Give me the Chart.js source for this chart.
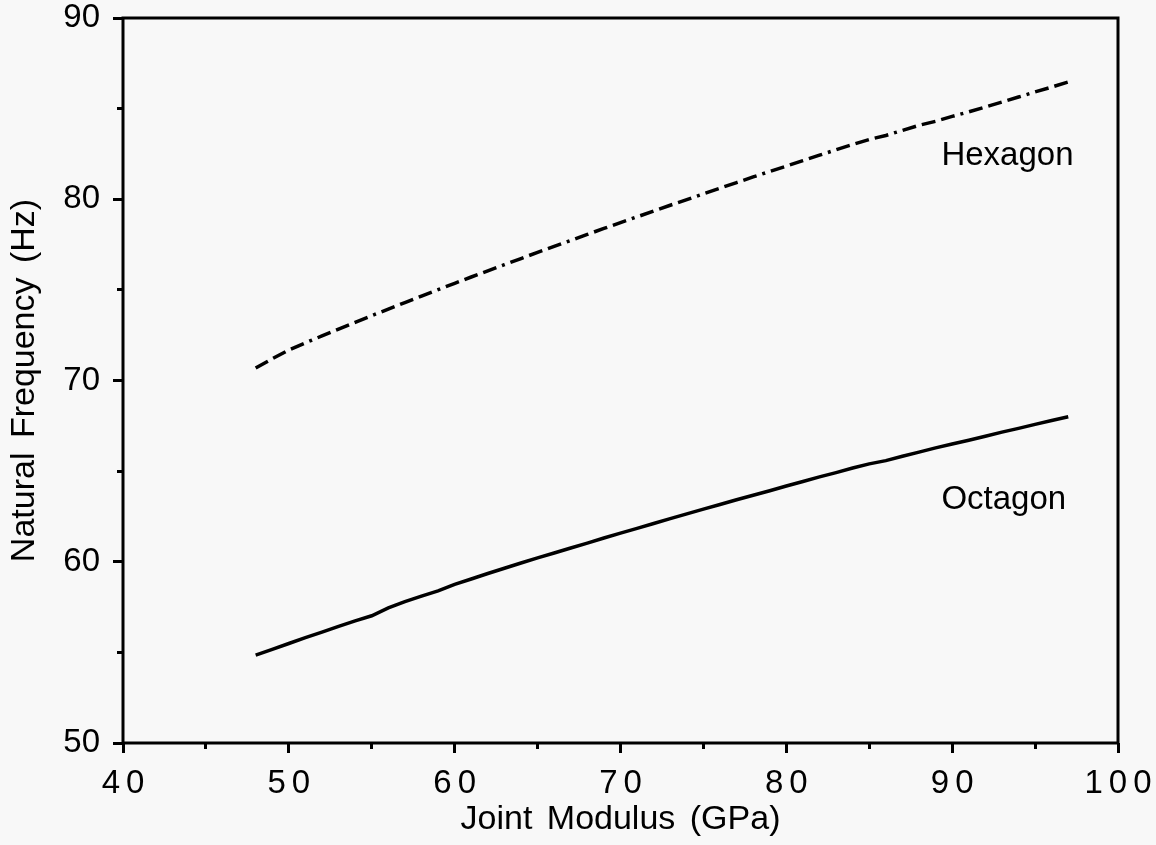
<!DOCTYPE html>
<html>
<head>
<meta charset="utf-8">
<script src="https://cdn.jsdelivr.net/npm/chart.js@4.4.1/dist/chart.umd.min.js"></script>
<style>
html,body{margin:0;padding:0;background:#f8f8f8;}
#wrap{width:1156px;height:845px;}
</style>
</head>
<body>
<div id="wrap"><canvas id="c" width="1156" height="845"></canvas></div>
<script>
// ---- data ----
const modulus = [48,49,50,51,52,53,54,55,56,57,58,59,60,61,62,63,64,65,66,67,68,69,70,71,72,73,74,75,76,77,78,79,80,81,82,83,84,85,86,87,88,89,90,91,92,93,94,95,96,97];
const hexagon = [70.69,71.20,71.68,72.08,72.46,72.84,73.21,73.58,73.94,74.30,74.66,75.01,75.36,75.71,76.05,76.39,76.73,77.07,77.40,77.73,78.06,78.39,78.71,79.03,79.35,79.67,79.98,80.30,80.61,80.92,81.23,81.53,81.83,82.13,82.43,82.73,83.02,83.30,83.52,83.80,84.08,84.30,84.57,84.82,85.09,85.36,85.64,85.92,86.19,86.47];
const octagon = [54.85,55.17,55.49,55.81,56.12,56.43,56.74,57.02,57.45,57.80,58.10,58.39,58.75,59.05,59.35,59.64,59.93,60.21,60.48,60.76,61.03,61.31,61.58,61.84,62.11,62.38,62.64,62.90,63.16,63.42,63.67,63.92,64.18,64.43,64.68,64.92,65.17,65.40,65.58,65.82,66.05,66.28,66.50,66.70,66.92,67.15,67.36,67.58,67.79,68.00];
const curveLabels = ['Hexagon','Octagon'];
const curveLabelX = [89.35, 89.35];
const curveLabelY = [81.9, 62.9];
const xRange = [40, 100];
const yRange = [50, 90];
const xTitle = 'Joint Modulus (GPa)';
const yTitle = 'Natural Frequency (Hz)';

const FAMILY = '"Liberation Sans", Arial, Helvetica, sans-serif';
Chart.defaults.font.family = FAMILY;
Chart.defaults.color = '#000';

const toPts = (xs, ys) => xs.map((x, i) => ({x: x, y: ys[i]}));

const bgPlugin = {
  id: 'bg',
  beforeDraw(chart) {
    const c = chart.ctx;
    c.save();
    c.fillStyle = '#f8f8f8';
    c.fillRect(0, 0, chart.width, chart.height);
    c.restore();
  }
};

const spacingPlugin = {
  id: 'xspacing',
  afterLayout(chart) {
    const s = chart.scales.x;
    if (s && !s._spaced) {
      const orig = s.drawLabels.bind(s);
      s.drawLabels = function(area) {
        const c = this.ctx;
        c.save();
        c.letterSpacing = '6px';
        c.translate(3, 0);
        orig(area);
        c.restore();
      };
      s._spaced = true;
    }
    ['x', 'y'].forEach(id => {
      const sc = chart.scales[id];
      if (sc && !sc._wordSpaced) {
        const o = sc.drawTitle.bind(sc);
        sc.drawTitle = function() {
          const c = this.ctx;
          c.save();
          c.wordSpacing = '5px';
          o();
          c.restore();
        };
        sc._wordSpaced = true;
      }
    });
  }
};

const framePlugin = {
  id: 'frame',
  afterDatasetsDraw(chart) {
    const a = chart.chartArea, c = chart.ctx;
    c.save();
    c.strokeStyle = '#000';
    c.lineWidth = 3;
    c.strokeRect(a.left, a.top, a.right - a.left, a.bottom - a.top);
    c.font = '33px ' + FAMILY;
    c.fillStyle = '#000';
    c.textAlign = 'left';
    c.textBaseline = 'alphabetic';
    curveLabels.forEach((t, i) => {
      c.fillText(t, chart.scales.x.getPixelForValue(curveLabelX[i]), chart.scales.y.getPixelForValue(curveLabelY[i]));
    });
    c.restore();
  }
};

new Chart(document.getElementById('c'), {
  type: 'line',
  data: {
    datasets: [
      {
        label: 'Hexagon',
        data: toPts(modulus, hexagon),
        borderColor: '#000',
        borderWidth: 3.5,
        borderDash: [14, 6, 14, 6, 14, 6, 3, 6],
        pointRadius: 0,
        tension: 0,
        fill: false,
        xAxisID: 'x', yAxisID: 'y'
      },
      {
        label: 'Octagon',
        data: toPts(modulus, octagon),
        borderColor: '#000',
        borderWidth: 3.5,
        pointRadius: 0,
        tension: 0,
        fill: false,
        xAxisID: 'x', yAxisID: 'y'
      }
    ]
  },
  options: {
    responsive: false,
    animation: false,
    devicePixelRatio: 1,
    layout: {padding: {left: 0, right: 38, top: 18, bottom: 0}},
    plugins: {legend: {display: false}, tooltip: {enabled: false}},
    scales: {
      x: {
        type: 'linear', position: 'bottom', weight: 1,
        min: xRange[0], max: xRange[1],
        afterFit: s => { s.height = 102; s.paddingLeft = 0; s.paddingRight = 0; },
        ticks: {stepSize: 10, padding: 11, color: '#000', font: {size: 33}, maxRotation: 0, autoSkip: false},
        grid: {drawOnChartArea: false, tickLength: 10, tickWidth: 3, tickColor: '#000'},
        border: {display: false},
        title: {display: true, text: xTitle, color: '#000', font: {size: 34}, padding: {top: 0, bottom: 5}}
      },
      xMinor: {
        type: 'linear', position: 'bottom', weight: 0,
        min: xRange[0], max: xRange[1],
        afterFit: s => { s.height = 0; s.paddingLeft = 0; s.paddingRight = 0; },
        ticks: {display: false, stepSize: 5},
        grid: {drawOnChartArea: false, tickLength: 6, tickWidth: 3, tickColor: '#000'},
        border: {display: false}
      },
      y: {
        type: 'linear', position: 'left', weight: 1,
        min: yRange[0], max: yRange[1],
        afterFit: s => { s.width = 123; s.paddingTop = 0; s.paddingBottom = 0; },
        ticks: {stepSize: 10, padding: 13, color: '#000', font: {size: 33}},
        grid: {drawOnChartArea: false, tickLength: 10, tickWidth: 3, tickColor: '#000'},
        border: {display: false},
        title: {display: true, text: yTitle, color: '#000', font: {size: 34}, padding: {top: 4, bottom: 0}}
      },
      yMinor: {
        type: 'linear', position: 'left', weight: 0,
        min: yRange[0], max: yRange[1],
        afterFit: s => { s.width = 0; s.paddingTop = 0; s.paddingBottom = 0; },
        ticks: {display: false, stepSize: 5},
        grid: {drawOnChartArea: false, tickLength: 6, tickWidth: 3, tickColor: '#000'},
        border: {display: false}
      }
    }
  },
  plugins: [bgPlugin, spacingPlugin, framePlugin]
});
</script>
</body>
</html>
